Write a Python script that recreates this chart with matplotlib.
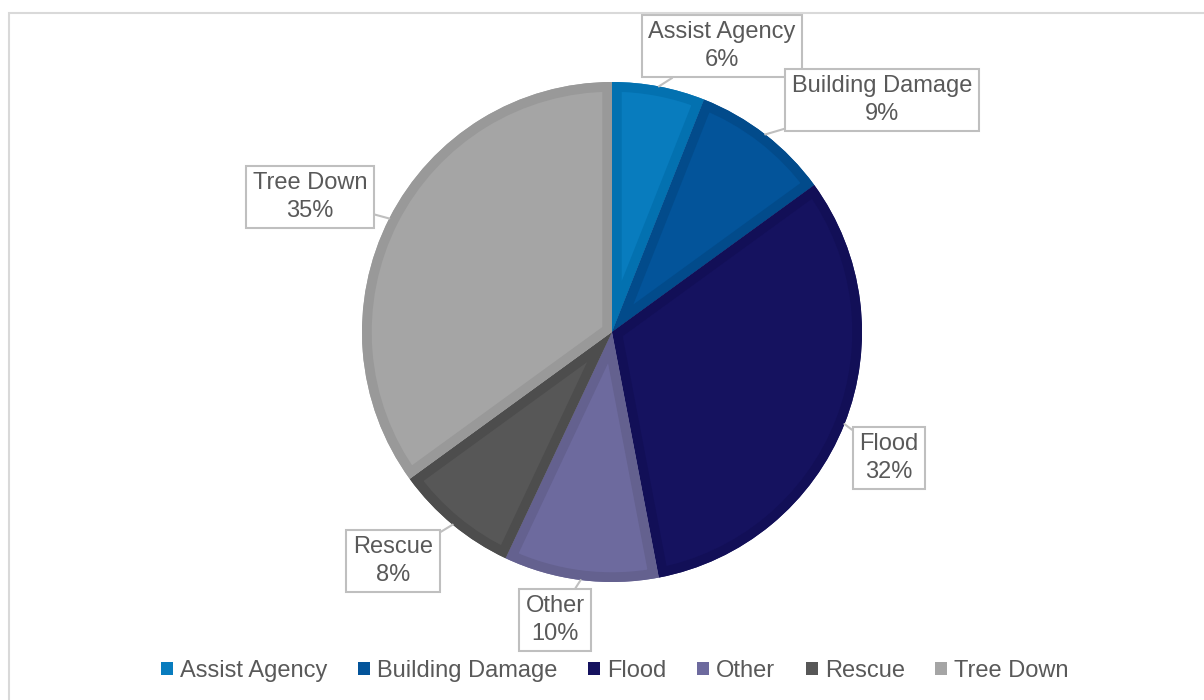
import matplotlib.pyplot as plt
from matplotlib.patches import Patch, Rectangle, Wedge
import numpy as np

plt.rcParams['font.family'] = ['Liberation Sans', 'DejaVu Sans']

categories = ['Assist Agency', 'Building Damage', 'Flood', 'Other', 'Rescue', 'Tree Down']
shares = [6, 9, 32, 10, 8, 35]
fill_colors = ['#087CBE', '#03549A', '#15125F', '#6D6A9E', '#575757', '#A5A5A5']
edge_colors = ['#0371B0', '#024B8B', '#120F57', '#64618F', '#4D4D4D', '#999999']
# callout box centres in pixels (from top-left of the image)
box_centres = [(722, 46), (882, 100), (889, 458), (555, 620), (393, 561), (310, 197)]

text_grey = '#595959'
box_grey = '#BFBFBF'

W, H = 1204, 700
cx, cy, radius = 612, 332, 250

fig = plt.figure(figsize=(W / 100, H / 100), dpi=100)
ax = fig.add_axes([0, 0, 1, 1])

# y axis points down, so counterclock=True runs clockwise on screen
wedges, _ = ax.pie(shares, colors=fill_colors, startangle=-90, counterclock=True,
                   center=(cx, cy), radius=radius, frame=True,
                   wedgeprops=dict(linewidth=0))

# inner border of each slice: a stroked copy clipped to the slice itself
for w, ec in zip(wedges, edge_colors):
    rim = Wedge((cx, cy), radius, w.theta1, w.theta2, fill=False, ec=ec, lw=14)
    ax.add_patch(rim)
    rim.set_clip_path(w)

ax.set_xlim(0, W)
ax.set_ylim(H, 0)
ax.set_aspect('equal')
ax.axis('off')

total = sum(shares)
for w, cat, share, (bx, by) in zip(wedges, categories, shares, box_centres):
    mid = np.deg2rad((w.theta1 + w.theta2) / 2)
    px = cx + radius * np.cos(mid)
    py = cy + radius * np.sin(mid)
    ax.annotate(f'{cat}\n{round(100 * share / total)}%', xy=(px, py), xytext=(bx, by),
                ha='center', va='center', fontsize=17, color=text_grey,
                linespacing=1.3,
                bbox=dict(boxstyle='square,pad=0.28', fc='white', ec=box_grey, lw=1.5),
                arrowprops=dict(arrowstyle='-', color=box_grey, lw=1.5,
                                shrinkA=0, shrinkB=0))

handles = [Patch(facecolor=c, edgecolor='none', label=cat) for c, cat in zip(fill_colors, categories)]
fig.legend(handles=handles, loc='center', bbox_to_anchor=(615 / W, 1 - 671 / H), ncol=6,
           frameon=False, fontsize=17, labelcolor=text_grey, handlelength=0.5,
           handleheight=0.5, handletextpad=0.3, columnspacing=1.3, borderaxespad=0)

# outer chart border
fig.patches.append(Rectangle((9 / W, -0.1), 1.2, 1 - 13 / H + 0.1, transform=fig.transFigure,
                             fill=False, ec='#D9D9D9', lw=1.5))

fig.savefig('out.png', dpi=100)
